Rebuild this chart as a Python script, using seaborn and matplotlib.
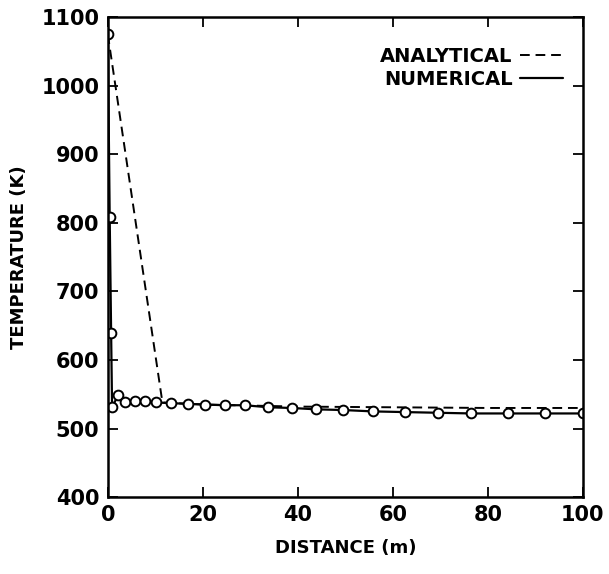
import seaborn as sns
import pandas as pd
import matplotlib.pyplot as plt

# values
num_x = [0.0, 0.4, 0.7, 0.9, 2.2, 3.6, 5.7, 7.8, 10.2, 13.4, 16.9, 20.4, 24.6, 28.8,
         33.8, 38.7, 43.9, 49.5, 55.8, 62.5, 69.5, 76.5, 84.3, 92.1, 100.0]
num_y = [1075, 808, 640, 531, 549, 538, 540, 540, 538, 537, 536, 535, 534, 534,
         531, 530, 528, 527, 525, 524, 523, 522, 522, 522, 522]
ana_x = [0.0, 11.5, 20.0, 40.0, 60.0, 80.0, 100.0]
ana_y = [1075, 538, 535, 532, 531, 530, 530]

numerical = pd.DataFrame({"distance": num_x, "temperature": num_y})
analytical = pd.DataFrame({"distance": ana_x, "temperature": ana_y})

sns.set_style("ticks")
plt.rcParams["font.family"] = ["DejaVu Sans"]
plt.rcParams["font.weight"] = "bold"
for k in ["text.color", "axes.labelcolor", "xtick.color", "ytick.color", "axes.edgecolor"]:
    plt.rcParams[k] = "black"

fig = plt.figure(figsize=(6.09, 5.74), dpi=100)
ax = fig.add_axes([0.177, 0.134, 0.780, 0.836])

sns.lineplot(x="distance", y="temperature", data=analytical, ax=ax, color="black",
             linewidth=1.4, dashes=False, label="ANALYTICAL")
ax.lines[-1].set_linestyle((0, (5, 3)))
sns.lineplot(x="distance", y="temperature", data=numerical, ax=ax, color="black",
             linewidth=1.6, marker="o", markersize=7, markerfacecolor="white",
             markeredgecolor="black", markeredgewidth=1.4, label="NUMERICAL")

ax.set_xlim(0, 100)
ax.set_ylim(400, 1100)
ax.set_xticks([0, 20, 40, 60, 80, 100])
ax.set_yticks([400, 500, 600, 700, 800, 900, 1000, 1100])
ax.tick_params(direction="in", top=True, right=True, length=7, width=1.3,
               labelsize=15, pad=6)
for s in ax.spines.values():
    s.set_linewidth(1.8)

ax.set_xlabel("DISTANCE (m)", fontsize=13, fontweight="bold", labelpad=10)
ax.set_ylabel("TEMPERATURE (K)", fontsize=13, fontweight="bold", labelpad=10)

leg = ax.legend(loc="upper right", frameon=False, markerfirst=False, fontsize=14,
                handlelength=2.2, handletextpad=0.4, bbox_to_anchor=(0.995, 0.975),
                labelspacing=0.2)
for h in leg.legend_handles:
    h.set_marker("")

fig.savefig("out.png", dpi=100)
